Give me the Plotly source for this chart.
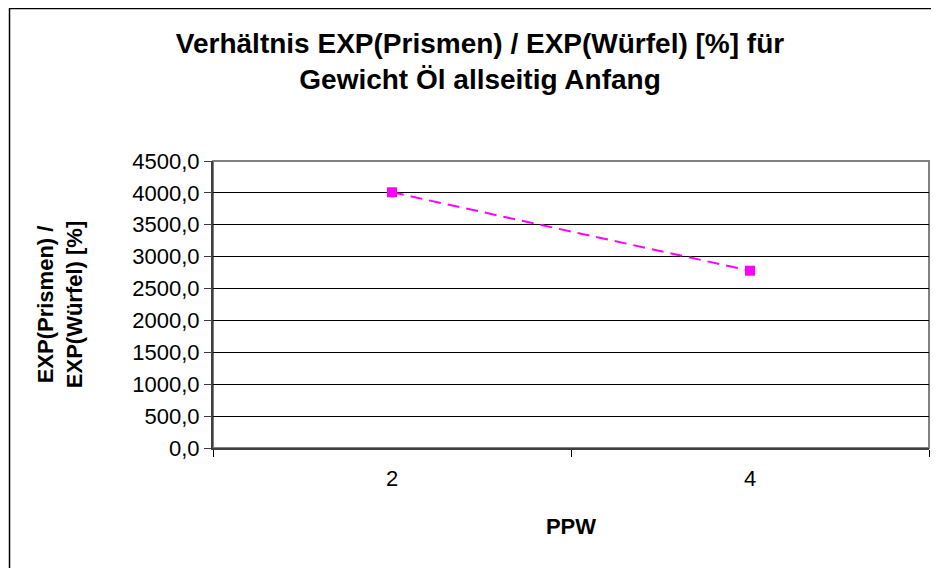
import plotly.graph_objects as go

categories = ["2", "4"]
values = [4010.0, 2780.0]
y_ticks = [0, 500, 1000, 1500, 2000, 2500, 3000, 3500, 4000, 4500]
y_tick_labels = ["0,0", "500,0", "1000,0", "1500,0", "2000,0", "2500,0", "3000,0", "3500,0", "4000,0", "4500,0"]

FONT = "Liberation Sans, Arial, sans-serif"

fig = go.Figure()
fig.add_trace(go.Scatter(
    x=categories, y=values, mode="lines+markers",
    line=dict(color="#FF00FF", width=2, dash="12px,7px"),
    marker=dict(symbol="square", size=10, color="#FF00FF"),
    showlegend=False,
))

fig.update_layout(
    width=931, height=560,
    margin=dict(l=205, r=10, t=153, b=120),
    paper_bgcolor="white", plot_bgcolor="white",
    font=dict(family=FONT, color="black"),
    title=dict(
        text="<b>Verhältnis EXP(Prismen) / EXP(Würfel) [%] für<br>Gewicht Öl allseitig Anfang</b>",
        x=0.507, xanchor="center", y=0.92, yanchor="top", yref="container",
        font=dict(size=28, family=FONT),
    ),
    xaxis=dict(
        type="category", range=[-0.5, 1.5],
        tickson="boundaries", ticks="outside", ticklen=7, tickcolor="black",
        ticklabelstandoff=10,
        showgrid=False, showline=True, linecolor="#404040", linewidth=2,
        mirror=False,
        tickfont=dict(size=22, family=FONT),
        title=dict(text="<b>PPW</b>", font=dict(size=22, family=FONT), standoff=28),
    ),
    yaxis=dict(
        range=[0, 4500], tickvals=y_ticks, ticktext=y_tick_labels,
        ticks="outside", ticklen=7, tickcolor="#404040",
        showgrid=True, gridcolor="black", gridwidth=1,
        showline=True, linecolor="#404040", linewidth=2,
        zeroline=False,
        tickfont=dict(size=22, family=FONT),
        title=dict(text="<b>EXP(Prismen) /<br>EXP(Würfel) [%]</b>", font=dict(size=22, family=FONT), standoff=44),
    ),
    shapes=[
        dict(type="rect", xref="paper", yref="paper", x0=0, x1=1, y0=0, y1=1,
             line=dict(color="#808080", width=2), fillcolor="rgba(0,0,0,0)", layer="below"),
        dict(type="rect", xref="paper", yref="paper", x0=-0.2842, x1=1.2, y0=-0.8, y1=1.531,
             line=dict(color="black", width=1.5), fillcolor="rgba(0,0,0,0)"),
    ],
)

fig.write_html("out.html")
